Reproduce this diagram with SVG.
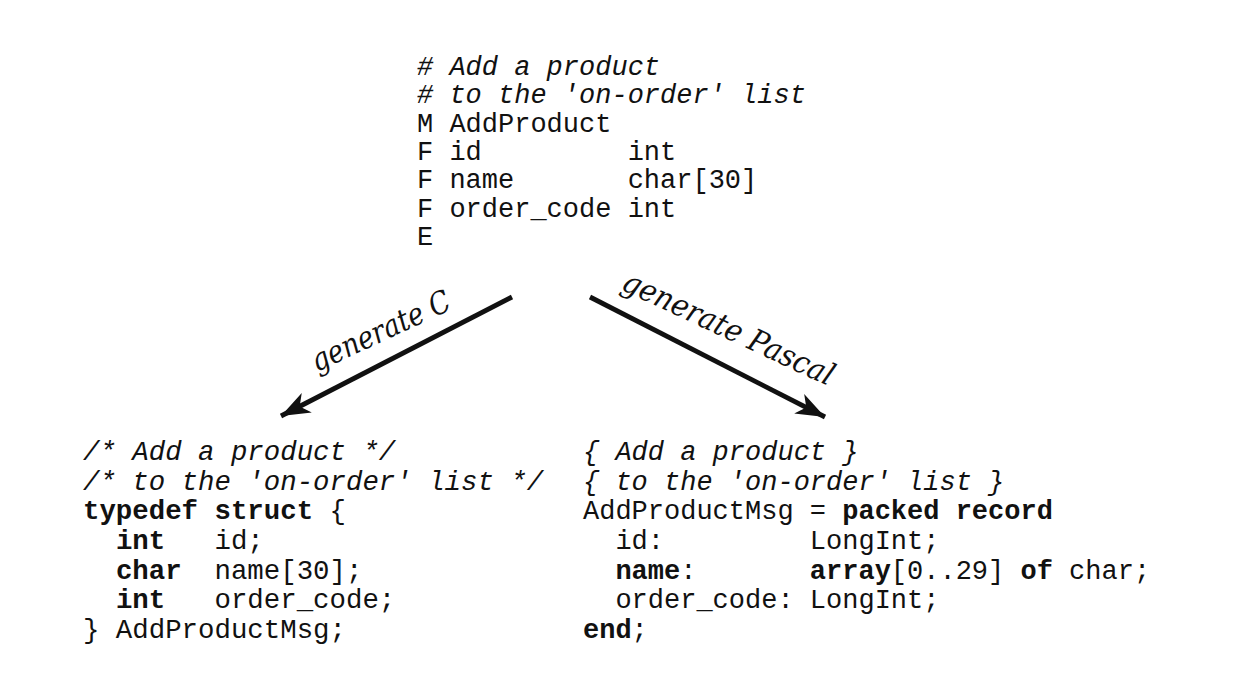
<svg xmlns="http://www.w3.org/2000/svg" width="1248" height="684" viewBox="0 0 1248 684">
<style>
.code{font-family:"Liberation Mono","Courier New",monospace;font-size:27px;fill:#111;white-space:pre}
.bl{font-size:27.4px}
.it{font-style:italic}
.b{font-weight:bold}
.lbl{font-family:"DejaVu Serif","Liberation Serif",serif;font-style:italic;font-size:31px;fill:#111}
.arr{stroke:#111;stroke-width:4.8;fill:none}
</style>
<defs>
<marker id="ah" markerUnits="userSpaceOnUse" markerWidth="40" markerHeight="30" viewBox="-30 -15 32 30" refX="0" refY="0" orient="auto">
<path d="M0,0 L-29,-11 L-21,0 L-29,11 Z" fill="#111"/>
</marker>
</defs>
<rect width="1248" height="684" fill="#fff"/>
<g id="spec">
<text class="code it" x="417" y="75"># Add a product</text>
<text class="code it" x="417" y="103.3"># to the 'on-order' list</text>
<text class="code" x="417" y="131.7">M AddProduct</text>
<text class="code" x="417" y="160">F id         int</text>
<text class="code" x="417" y="188.3">F name       char[30]</text>
<text class="code" x="417" y="216.7">F order_code int</text>
<text class="code" x="417" y="245">E</text>
</g>
<g id="c-code">
<text class="code bl it" x="83" y="460">/* Add a product */</text>
<text class="code bl it" x="83" y="489.7">/* to the 'on-order' list */</text>
<text class="code bl" x="83" y="519.3"><tspan class="b">typedef</tspan> <tspan class="b">struct</tspan> {</text>
<text class="code bl" x="83" y="549">  <tspan class="b">int</tspan>   id;</text>
<text class="code bl" x="83" y="578.7">  <tspan class="b">char</tspan>  name[30];</text>
<text class="code bl" x="83" y="608.3">  <tspan class="b">int</tspan>   order_code;</text>
<text class="code bl" x="83" y="638">} AddProductMsg;</text>
</g>
<g id="pascal-code">
<text class="code it" x="583" y="460">{ Add a product }</text>
<text class="code it" x="583" y="489.7">{ to the 'on-order' list }</text>
<text class="code" x="583" y="519.3">AddProductMsg = <tspan class="b">packed</tspan> <tspan class="b">record</tspan></text>
<text class="code" x="583" y="549">  id:         LongInt;</text>
<text class="code" x="583" y="578.7">  <tspan class="b">name</tspan>:       <tspan class="b">array</tspan>[0..29] <tspan class="b">of</tspan> char;</text>
<text class="code" x="583" y="608.3">  order_code: LongInt;</text>
<text class="code" x="583" y="638"><tspan class="b">end</tspan>;</text>
</g>
<g id="connectors">
<line class="arr" x1="512" y1="297" x2="281" y2="416" marker-end="url(#ah)"/>
<line class="arr" x1="590" y1="297" x2="825" y2="417" marker-end="url(#ah)"/>
<text class="lbl" transform="translate(317,372) rotate(-25)" textLength="150" lengthAdjust="spacingAndGlyphs">generate C</text>
<text class="lbl" transform="translate(620,289) rotate(25)" textLength="230" lengthAdjust="spacingAndGlyphs">generate Pascal</text>
</g>
</svg>
